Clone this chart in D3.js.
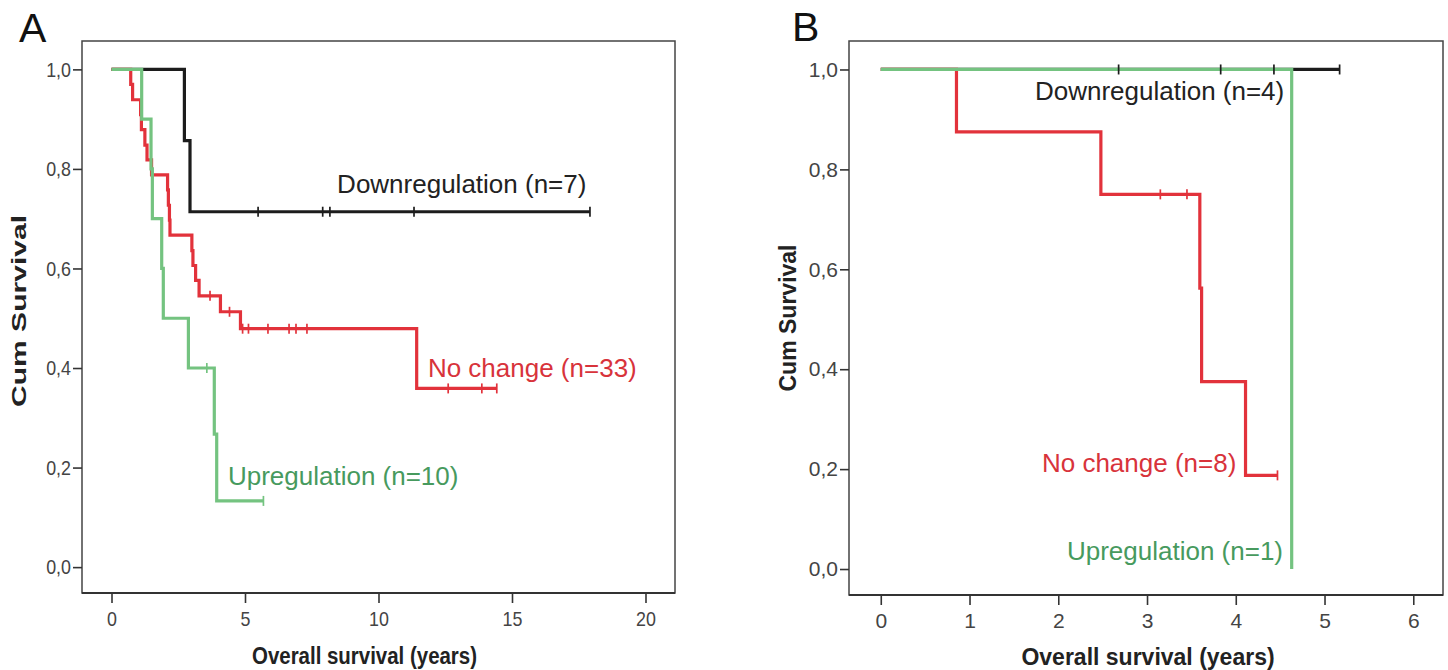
<!DOCTYPE html>
<html><head><meta charset="utf-8">
<script src="https://cdn.jsdelivr.net/npm/d3@7"></script>
<style>
html,body{margin:0;padding:0;background:#fff;}
svg{display:block;font-family:"Liberation Sans",Arial,sans-serif;}
</style></head><body>
<svg id="chart" width="1448" height="670"></svg>
<script>
// ---------- Panel A data (years, cumulative survival) ----------
const aDownTime = [0, 2.73, 2.94, 17.92];
const aDownSurv = [1, 0.857, 0.714, 0.714];
const aDownCens = [5.49, 7.91, 8.18, 11.33, 17.92];

const aNoTime = [0, 0.72, 0.79, 1.09, 1.12, 1.25, 1.33, 1.50, 2.10, 2.13, 2.17, 2.19, 3.01, 3.05, 3.15, 3.28, 4.08, 4.83, 11.43, 14.43];
const aNoSurv = [1, 0.970, 0.939, 0.909, 0.879, 0.848, 0.818, 0.788, 0.758, 0.727, 0.697, 0.667, 0.636, 0.606, 0.576, 0.545, 0.513, 0.479, 0.359, 0.359];
const aNoCens = [3.69, 4.42, 4.91, 5.13, 5.86, 6.65, 6.91, 7.32, 12.61, 13.87, 14.43];

const aUpTime = [0, 1.13, 1.48, 1.53, 1.88, 1.94, 2.88, 3.85, 3.94, 5.69];
const aUpSurv = [1, 0.9, 0.8, 0.7, 0.6, 0.5, 0.4, 0.267, 0.133, 0.133];
const aUpCens = [3.57, 5.69];

const aXTicks = [0, 5, 10, 15, 20];

// ---------- Panel B data ----------
const bDownTime = [0, 5.17];
const bDownSurv = [1, 1];
const bDownCens = [2.68, 3.83, 4.43, 5.17];

const bNoTime = [0, 0.853, 2.48, 3.595, 3.615, 4.11, 4.47];
const bNoSurv = [1, 0.875, 0.75, 0.5625, 0.375, 0.1875, 0.1875];
const bNoCens = [3.15, 3.45, 4.47];

const bUpTime = [0, 4.63];
const bUpSurv = [1, 0];
const bUpCens = [];

const bXTicks = [0, 1, 2, 3, 4, 5, 6];

const yTicks = [0, 0.2, 0.4, 0.6, 0.8, 1.0];

// labels: [text, time, survival]
const aLabels = [["Downregulation (n=7)", 8.45, 0.752], ["No change (n=33)", 11.85, 0.382], ["Upregulation (n=10)", 4.36, 0.165]];
const bLabels = [["Downregulation (n=4)", 1.737, 0.939], ["No change (n=8)", 1.816, 0.195], ["Upregulation (n=1)", 2.098, 0.018]];

// ---------- styles ----------
const COL = {down: "#1c1c1c", no: "#e2323b", up: "#74c380"};
const TXT = {down: "#222222", no: "#d8333b", up: "#479a5e"};

const svg = d3.select("#chart");
const fmt = d => d3.format(".1f")(d).replace(".", ",");

function panel(o) {
  const g = svg.append("g");
  const x = d3.scaleLinear().domain(o.xDomain).range([o.x0, o.x1]);
  const y = d3.scaleLinear().domain([-0.052, 1.057]).range([o.y1, o.y0]);

  // frame
  g.append("rect").attr("x", o.x0).attr("y", o.y0).attr("width", o.x1 - o.x0).attr("height", o.y1 - o.y0)
    .attr("fill", "none").attr("stroke", "#444").attr("stroke-width", 1.5);
  g.append("line").attr("x1", o.x0).attr("x2", o.x1).attr("y1", o.y1).attr("y2", o.y1)
    .attr("stroke", "#333").attr("stroke-width", 2.2);

  // axes
  const ya = g.append("g").attr("transform", `translate(${o.x0},0)`)
    .call(d3.axisLeft(y).tickValues(yTicks).tickFormat(fmt).tickSize(9).tickSizeOuter(0).tickPadding(2));
  const xa = g.append("g").attr("transform", `translate(0,${o.y1})`)
    .call(d3.axisBottom(x).tickValues(o.xTicks).tickFormat(d3.format("d")).tickSize(10).tickSizeOuter(0).tickPadding(8));
  [ya, xa].forEach(a => {
    a.select(".domain").remove();
    a.selectAll(".tick line").attr("stroke", "#333").attr("stroke-width", 1.6);
    a.selectAll(".tick text").attr("fill", "#444").style("font-size", "21px").attr("font-family", null);
  });
  if (o.squash) {
    g.selectAll(".tick text").each(function () {
      const w = this.getComputedTextLength();
      d3.select(this).attr("textLength", w * o.squash).attr("lengthAdjust", "spacingAndGlyphs");
    });
  }

  // axis titles
  const xt = g.append("text").attr("transform", `translate(${o.xTitle[0]},${o.xTitle[1]}) scale(1,${o.xTitle[4] || 1})`)
    .attr("text-anchor", "middle")
    .attr("font-weight", "bold").attr("fill", "#222").style("font-size", o.xTitle[2] + "px")
    .text("Overall survival (years)");
  if (o.xTitle[3]) xt.attr("textLength", o.xTitle[3]).attr("lengthAdjust", "spacingAndGlyphs");
  const yt = g.append("text").attr("transform", `translate(${o.yTitle[0]},${o.yTitle[1]}) rotate(-90)`)
    .attr("text-anchor", "middle").attr("font-weight", "bold").attr("fill", "#222")
    .style("font-size", o.yTitle[2] + "px").text("Cum Survival");
  if (o.yTitle[3]) yt.attr("textLength", o.yTitle[3]).attr("lengthAdjust", "spacingAndGlyphs");

  // panel letter
  g.append("text").attr("x", o.letter[1]).attr("y", o.letter[2]).attr("fill", "#111")
    .style("font-size", "41px").text(o.letter[0]);

  // curves
  const line = d3.line().x(d => x(d[0])).y(d => y(d[1])).curve(d3.curveStepAfter);
  o.series.forEach(s => {
    const pts = s.time.map((t, i) => [t, s.surv[i]]);
    g.append("path").attr("d", line(pts)).attr("fill", "none").attr("stroke", COL[s.key])
      .attr("stroke-width", 3.2).attr("stroke-linejoin", "miter").attr("stroke-linecap", "butt");
  });
  // censor marks
  o.series.forEach(s => {
    const survAt = t => { let v = s.surv[0]; s.time.forEach((tt, i) => { if (tt <= t) v = s.surv[i]; }); return v; };
    g.selectAll(null).data(s.cens).enter().append("line")
      .attr("x1", d => x(d)).attr("x2", d => x(d))
      .attr("y1", d => y(survAt(d)) - 5).attr("y2", d => y(survAt(d)) + 5)
      .attr("stroke", COL[s.key]).attr("stroke-width", 1.7);
  });

  // curve labels
  o.labels.forEach((l, i) => {
    const key = ["down", "no", "up"][i];
    g.append("text").attr("x", x(l[1])).attr("y", y(l[2])).attr("fill", TXT[key])
      .style("font-size", "26px").text(l[0]);
  });
}

panel({
  x0: 82, x1: 675, y0: 41, y1: 593,
  xDomain: [-1.105, 21.105], xTicks: aXTicks, squash: 0.85,
  xTitle: [364.5, 664, 22, 225, 1.12], yTitle: [26, 311, 20, 192],
  letter: ["A", 19, 42],
  series: [
    {key: "down", time: aDownTime, surv: aDownSurv, cens: aDownCens},
    {key: "no", time: aNoTime, surv: aNoSurv, cens: aNoCens},
    {key: "up", time: aUpTime, surv: aUpSurv, cens: aUpCens}
  ],
  labels: aLabels
});

panel({
  x0: 849, x1: 1443, y0: 41, y1: 595,
  xDomain: [-0.358, 6.335], xTicks: bXTicks, squash: null,
  xTitle: [1148, 665, 23, null, 1], yTitle: [796, 318, 23, null],
  letter: ["B", 792, 41],
  series: [
    {key: "down", time: bDownTime, surv: bDownSurv, cens: bDownCens},
    {key: "no", time: bNoTime, surv: bNoSurv, cens: bNoCens},
    {key: "up", time: bUpTime, surv: bUpSurv, cens: bUpCens}
  ],
  labels: bLabels
});
</script>
</body></html>
